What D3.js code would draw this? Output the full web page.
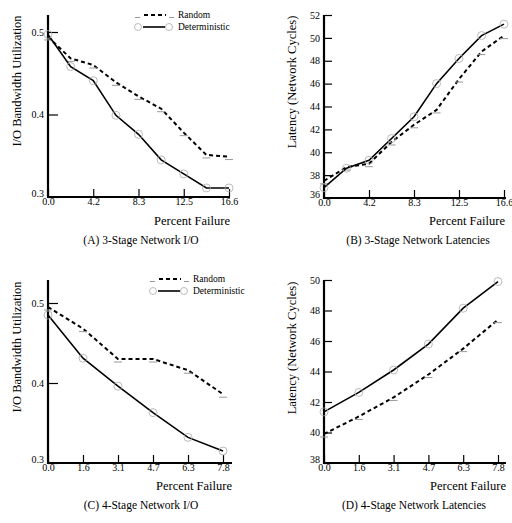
<!DOCTYPE html>
<html>
<head>
<meta charset="utf-8">
<script src="https://cdn.jsdelivr.net/npm/d3@7"></script>
<style>
  body { margin: 0; background: #fff; }
  text { font-family: "Liberation Serif", "Times New Roman", serif; fill: #000; }
</style>
</head>
<body>
<svg id="chart" width="512" height="523"></svg>
<script>
// failure percentages for each network size
const failure3 = [0, 2.08, 4.15, 6.23, 8.3, 10.38, 12.45, 14.53, 16.6];
const failure4 = [0, 1.56, 3.12, 4.68, 6.24, 7.8];

const ticks3 = [0, 4.15, 8.3, 12.45, 16.6];
const tickLabels3 = ["0.0", "4.2", "8.3", "12.5", "16.6"];
const ticks4 = [0, 1.56, 3.12, 4.68, 6.24, 7.8];
const tickLabels4 = ["0.0", "1.6", "3.1", "4.7", "6.3", "7.8"];

// (A) 3-stage I/O
const ioRandom3 = [0.494, 0.468, 0.46, 0.439, 0.422, 0.407, 0.378, 0.351, 0.349];
const ioDeterm3 = [0.497, 0.458, 0.441, 0.399, 0.376, 0.345, 0.328, 0.311, 0.311];
// (B) 3-stage latency
const latRandom3 = [37.5, 38.7, 39.0, 40.9, 42.4, 43.7, 46.4, 48.8, 50.2];
const latDeterm3 = [36.9, 38.6, 39.3, 41.2, 43.1, 46.0, 48.2, 50.2, 51.2];
// (C) 4-stage I/O
const ioRandom4 = [0.495, 0.468, 0.43, 0.43, 0.416, 0.386];
const ioDeterm4 = [0.485, 0.431, 0.396, 0.363, 0.332, 0.315];
// (D) 4-stage latency
const latRandom4 = [39.9, 41.05, 42.3, 43.8, 45.5, 47.4];
const latDeterm4 = [41.35, 42.63, 44.1, 45.8, 48.15, 49.9];

const ioTicks = [0.3, 0.4, 0.5];
const latTicks3 = [36, 38, 40, 42, 44, 46, 48, 50, 52];
const latTicks4 = [38, 40, 42, 44, 46, 48, 50];

const svg = d3.select("#chart");

function drawPanel(p) {
  const g = svg.append("g");

  const x = d3.scaleLinear().domain(p.xDomain).range([p.left, p.xEnd]);
  const y = d3.scaleLinear().domain(p.yDomain).range([p.bottom, p.yTopTick]);

  // y axis
  const yAxis = d3.axisLeft(y)
    .tickValues(p.yTicks)
    .tickFormat(p.yFormat)
    .tickSizeInner(-p.yTickLen)
    .tickSizeOuter(0)
    .tickPadding(4);
  const ya = g.append("g").attr("transform", `translate(${p.left},0)`).call(yAxis);
  ya.select(".domain").remove();
  ya.selectAll("line").attr("stroke", "#000").attr("stroke-width", 1.2);
  ya.selectAll("text").attr("font-size", 10).attr("font-family", "Liberation Serif")
    .attr("dy", d => d === p.yDomain[0] ? "-0.05em" : "0.32em");

  // x axis
  const xAxis = d3.axisBottom(x)
    .tickValues(p.xTicks)
    .tickFormat((d, i) => p.xLabels[i])
    .tickSizeInner(-8)
    .tickSizeOuter(0)
    .tickPadding(1);
  const xa = g.append("g").attr("transform", `translate(0,${p.bottom})`).call(xAxis);
  xa.select(".domain").remove();
  xa.selectAll("line").attr("stroke", "#000").attr("stroke-width", 1.2);
  xa.selectAll("text").attr("font-size", 10).attr("font-family", "Liberation Serif");

  // axis lines
  g.append("line")
    .attr("x1", p.left).attr("x2", p.left)
    .attr("y1", p.axisTop).attr("y2", p.bottom + 1)
    .attr("stroke", "#000").attr("stroke-width", 2.2);
  g.append("line")
    .attr("x1", p.left - 1).attr("x2", p.axisRight)
    .attr("y1", p.bottom).attr("y2", p.bottom)
    .attr("stroke", "#000").attr("stroke-width", 2);

  const line = d3.line().x((d, i) => x(p.xs[i])).y(d => y(d));

  // random: dashed
  g.append("path").datum(p.random)
    .attr("d", line)
    .attr("fill", "none").attr("stroke", "#000")
    .attr("stroke-width", 2).attr("stroke-dasharray", "4,3");
  g.selectAll(".rm").data(p.random).enter().append("line")
    .attr("x1", (d, i) => x(p.xs[i]) - 4).attr("x2", (d, i) => x(p.xs[i]) + 4)
    .attr("y1", d => y(d) + 3).attr("y2", d => y(d) + 3)
    .attr("stroke", "#999").attr("stroke-width", 1);

  // deterministic: solid
  g.append("path").datum(p.determ)
    .attr("d", line)
    .attr("fill", "none").attr("stroke", "#000")
    .attr("stroke-width", 1.6);
  g.selectAll(".dm").data(p.determ).enter().append("circle")
    .attr("cx", (d, i) => x(p.xs[i])).attr("cy", d => y(d))
    .attr("r", 4)
    .attr("fill", "none").attr("stroke", "#aaa").attr("stroke-width", 0.8);

  // axis titles
  g.append("text")
    .attr("transform", `translate(${p.yLabelX},${p.yLabelY}) rotate(-90)`)
    .attr("text-anchor", "middle")
    .attr("font-size", 12.5)
    .text(p.yTitle);
  g.append("text")
    .attr("x", p.xLabelX).attr("y", p.xLabelY)
    .attr("text-anchor", "end")
    .attr("font-size", 12.5)
    .text("Percent Failure");

  // caption
  g.append("text")
    .attr("x", p.capX).attr("y", p.capY)
    .attr("text-anchor", "middle")
    .attr("font-size", 11.5)
    .text(p.caption);

  // legend
  if (p.legend) {
    const lx = p.legend[0], ly = p.legend[1];
    g.append("line").attr("x1", lx).attr("x2", lx + 5)
      .attr("y1", ly + 2.5).attr("y2", ly + 2.5).attr("stroke", "#999");
    g.append("line").attr("x1", lx + 9).attr("x2", lx + 31)
      .attr("y1", ly).attr("y2", ly)
      .attr("stroke", "#000").attr("stroke-width", 2).attr("stroke-dasharray", "4,3");
    g.append("line").attr("x1", lx + 34).attr("x2", lx + 39)
      .attr("y1", ly + 2.5).attr("y2", ly + 2.5).attr("stroke", "#999");
    g.append("text").attr("x", lx + 43).attr("y", ly + 3)
      .attr("font-size", 9.5).text("Random");

    const dy = ly + 12;
    g.append("circle").attr("cx", lx + 3).attr("cy", dy).attr("r", 3.5)
      .attr("fill", "none").attr("stroke", "#aaa").attr("stroke-width", 0.8);
    g.append("line").attr("x1", lx + 8).attr("x2", lx + 30)
      .attr("y1", dy).attr("y2", dy)
      .attr("stroke", "#000").attr("stroke-width", 1.6);
    g.append("circle").attr("cx", lx + 34).attr("cy", dy).attr("r", 3.5)
      .attr("fill", "none").attr("stroke", "#aaa").attr("stroke-width", 0.8);
    g.append("text").attr("x", lx + 43).attr("y", dy + 3)
      .attr("font-size", 9.5).text("Deterministic");
  }
}

const fmt1 = d3.format(".1f");
const fmt0 = d3.format("d");

drawPanel({
  xs: failure3, random: ioRandom3, determ: ioDeterm3,
  xDomain: [0, 16.6], yDomain: [0.3, 0.5],
  left: 48, xEnd: 229, axisRight: 230, bottom: 197, yTopTick: 32, axisTop: 15,
  yTicks: ioTicks, yFormat: fmt1, yTickLen: 10,
  xTicks: ticks3, xLabels: tickLabels3,
  yTitle: "I/O Bandwidth Utilization", yLabelX: 21, yLabelY: 81,
  xLabelX: 230, xLabelY: 225,
  caption: "(A) 3-Stage Network I/O", capX: 141, capY: 244,
  legend: [135, 15]
});

drawPanel({
  xs: failure3, random: latRandom3, determ: latDeterm3,
  xDomain: [0, 16.6], yDomain: [36, 52],
  left: 324, xEnd: 504, axisRight: 506, bottom: 198, yTopTick: 15, axisTop: 15,
  yTicks: latTicks3, yFormat: fmt0, yTickLen: 8,
  xTicks: ticks3, xLabels: tickLabels3,
  yTitle: "Latency (Network Cycles)", yLabelX: 296, yLabelY: 82,
  xLabelX: 505, xLabelY: 225,
  caption: "(B) 3-Stage Network Latencies", capX: 418, capY: 244
});

drawPanel({
  xs: failure4, random: ioRandom4, determ: ioDeterm4,
  xDomain: [0, 7.8], yDomain: [0.3, 0.5],
  left: 48, xEnd: 223, axisRight: 232, bottom: 463, yTopTick: 303, axisTop: 280,
  yTicks: ioTicks, yFormat: fmt1, yTickLen: 10,
  xTicks: ticks4, xLabels: tickLabels4,
  yTitle: "I/O Bandwidth Utilization", yLabelX: 21, yLabelY: 347,
  xLabelX: 232, xLabelY: 490,
  caption: "(C) 4-Stage Network I/O", capX: 141, capY: 509,
  legend: [150, 279]
});

drawPanel({
  xs: failure4, random: latRandom4, determ: latDeterm4,
  xDomain: [0, 7.8], yDomain: [38, 50],
  left: 324, xEnd: 498, axisRight: 506, bottom: 463, yTopTick: 280, axisTop: 280,
  yTicks: latTicks4, yFormat: fmt0, yTickLen: 8,
  xTicks: ticks4, xLabels: tickLabels4,
  yTitle: "Latency (Network Cycles)", yLabelX: 296, yLabelY: 348,
  xLabelX: 506, xLabelY: 490,
  caption: "(D) 4-Stage Network Latencies", capX: 414, capY: 509
});
</script>
</body>
</html>
